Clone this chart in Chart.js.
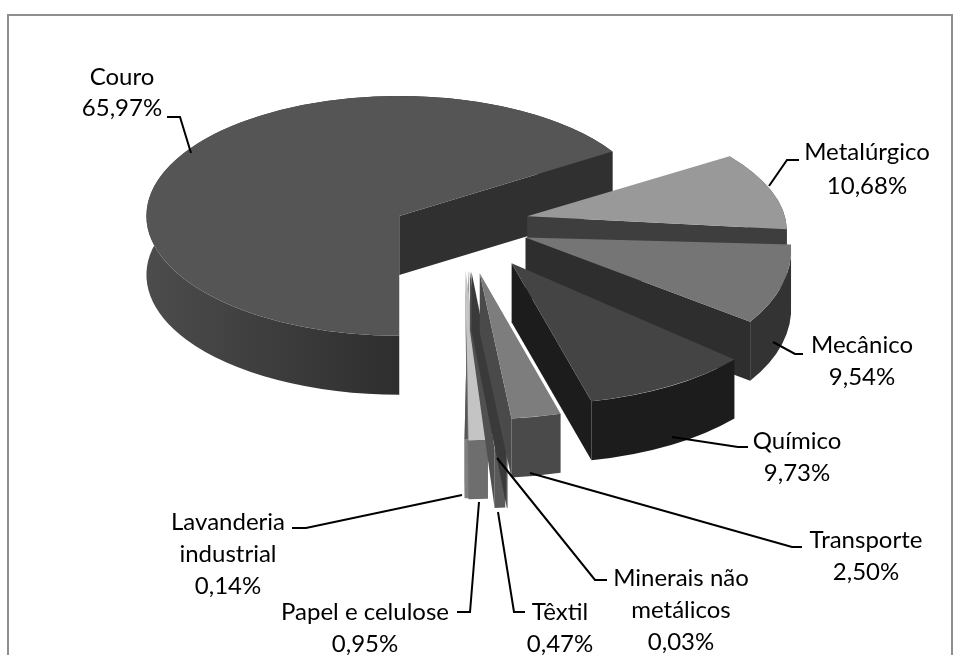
<!DOCTYPE html>
<html>
<head>
<meta charset="utf-8">
<script src="https://cdn.jsdelivr.net/npm/chart.js@4"></script>
<style>
  html, body { margin: 0; padding: 0; background: #fff; overflow: hidden; }
  #frame { position: absolute; left: 7px; top: 14px; width: 942px; height: 700px; border: 2px solid #8e8e8e; }
  #chart { position: absolute; left: 0; top: 0; }
</style>
</head>
<body>
<div id="frame"></div>
<canvas id="chart" width="956" height="655"></canvas>
<script>
// ============== Data ==============
const SECTORS = ["Couro", "Metalúrgico", "Mecânico", "Químico", "Transporte",
  "Minerais não metálicos", "Têxtil", "Papel e celulose", "Lavanderia industrial"];
const SHARES = [65.97, 10.68, 9.54, 9.73, 2.50, 0.03, 0.47, 0.95, 0.14];

// label rows, as wrapped in the picture
const LABEL_LINES = [
  ["Couro", "65,97%"],
  ["Metalúrgico", "10,68%"],
  ["Mecânico", "9,54%"],
  ["Químico", "9,73%"],
  ["Transporte", "2,50%"],
  ["Minerais não", "metálicos", "0,03%"],
  ["Têxtil", "0,47%"],
  ["Papel e celulose", "0,95%"],
  ["Lavanderia", "industrial", "0,14%"],
];

// ============== Styles per slice ==============
const TOP_COLORS  = ["#555555", "#999999", "#757575", "#444444", "#7d7d7d", "#3a3a3a", "#9a9a9a", "#c4c4c4", "#555555"];
const WALL_COLORS = [["#4c4c4c", "#2e2e2e"], ["#3e3e3e", "#3e3e3e"], ["#333333", "#333333"], ["#1c1c1c", "#1c1c1c"],
  ["#4a4a4a", "#4a4a4a"], ["#3a3a3a", "#3a3a3a"], ["#5a5a5a", "#5a5a5a"], ["#6e6e6e", "#6e6e6e"], ["#808080", "#808080"]];
const CUT_COLORS  = ["#303030", "#3e3e3e", "#2e2e2e", "#1c1c1c", "#4a4a4a", "#3a3a3a", "#505050", "#6e6e6e", "#808080"];
const EXPLODE = [67, 67, 69, 93, 100, 96, 95, 92, 90];
const NUDGE_X = [-4, 0, 0, 0, 0, 0, 0, 0, 6];
const NUDGE_Y = [8, 0, 0, 0, 0, 0, 0, 0, 0];
// fake perspective: each slice gets its own linear map, nearer slices drawn bigger
const MAP_XX = [0.98, 1.0, 1.02, 1.107, 1.233, 1.4, 1.4, 1.27, 2.0];
const MAP_XY = [0, 0.11, 0.143, 0.029, 0, 0, 0, 0, -0.015];
const MAP_YX = [0, 0.005, -0.029, 0.026, -0.02, 0, 0, 0, 0];
const MAP_YY = [0.465, 0.441, 0.539, 0.546, 0.568, 0.69, 0.69, 0.66, 0.66];
const PAINT_ORDER = [0, 1, 2, 3, 8, 7, 6, 5, 4];
const DEPTH = 59;
const ORIGIN_Y = 224;
const RADIUS = 258;

// ============== Label placement ==============
const LABEL_X = [122, 867, 862, 797, 866, 681, 560, 365, 228];
const LABEL_Y = [77, 152, 345, 441, 540, 578, 612, 612, 522];
const LABEL_ROW = [31, 34, 32, 32, 32, 32, 32, 32, 32];
const LEADERS = [
  [[167, 117], [180, 117], [191, 153]],
  [[769, 186], [787, 160], [799, 160]],
  [[773, 342], [795, 354], [803, 354]],
  [[672, 437], [738, 447], [748, 447]],
  [[530, 473], [792, 547], [802, 547]],
  [[497, 458], [595, 580], [607, 580]],
  [[498, 512], [514, 612], [525, 612]],
  [[479, 502], [470, 612], [457, 612]],
  [[462, 495], [306, 528], [292, 528]],
];

// ============== 3D pie plugin ==============
function drawSlice(ctx, arc, i) {
  const { x, y, startAngle, endAngle, outerRadius } = arc.getProps(["x", "y", "startAngle", "endAngle", "outerRadius"], true);
  const mid = (startAngle + endAngle) / 2;
  const a = MAP_XX[i], b = MAP_XY[i], c = MAP_YX[i], d = MAP_YY[i];
  // the wall hangs straight down on screen, so undo the map for its offset
  const det = a * d - b * c;
  const dropX = -b * DEPTH / det, dropY = a * DEPTH / det;

  ctx.save();
  ctx.translate(x + Math.cos(mid) * EXPLODE[i] + NUDGE_X[i], ORIGIN_Y + Math.sin(mid) * EXPLODE[i] * 0.5 + NUDGE_Y[i]);
  ctx.transform(a, c, b, d, 0, 0);
  ctx.translate(-x, -y);

  // outer wall
  const wall = ctx.createLinearGradient(x - outerRadius, 0, x, 0);
  wall.addColorStop(0, WALL_COLORS[i][0]);
  wall.addColorStop(1, WALL_COLORS[i][1]);
  ctx.fillStyle = wall;
  ctx.beginPath();
  ctx.arc(x, y, outerRadius, startAngle, endAngle);
  ctx.arc(x + dropX, y + dropY, outerRadius, endAngle, startAngle, true);
  ctx.closePath();
  ctx.fill();

  // cut faces, only those turned towards the viewer
  ctx.fillStyle = CUT_COLORS[i];
  [[startAngle, Math.cos(startAngle) < 0], [endAngle, Math.cos(endAngle) > 0]].forEach(([ang, visible]) => {
    if (!visible) return;
    const ex = x + Math.cos(ang) * outerRadius, ey = y + Math.sin(ang) * outerRadius;
    ctx.beginPath();
    ctx.moveTo(x, y);
    ctx.lineTo(ex, ey);
    ctx.lineTo(ex + dropX, ey + dropY);
    ctx.lineTo(x + dropX, y + dropY);
    ctx.closePath();
    ctx.fill();
  });

  arc.draw(ctx);
  ctx.restore();
}

const pie3d = {
  id: "pie3d",
  beforeDatasetDraw(chart, args) {
    const arcs = args.meta.data;
    PAINT_ORDER.forEach(i => drawSlice(chart.ctx, arcs[i], i));
    return false;
  },
  afterDraw(chart) {
    const ctx = chart.ctx;
    ctx.save();
    ctx.strokeStyle = "#000";
    ctx.lineWidth = 2;
    LEADERS.forEach(pts => {
      ctx.beginPath();
      pts.forEach(([px, py], k) => k ? ctx.lineTo(px, py) : ctx.moveTo(px, py));
      ctx.stroke();
    });
    ctx.fillStyle = "#000";
    ctx.font = '24px Lato, "Open Sans", sans-serif';
    ctx.textAlign = "center";
    ctx.textBaseline = "middle";
    LABEL_LINES.forEach((rows, i) => {
      rows.forEach((row, k) => ctx.fillText(row, LABEL_X[i], LABEL_Y[i] + k * LABEL_ROW[i]));
    });
    ctx.restore();
  }
};

// ============== Boot ==============
new Chart(document.getElementById("chart"), {
  type: "pie",
  data: {
    labels: SECTORS,
    datasets: [{
      data: SHARES,
      backgroundColor: TOP_COLORS,
      borderWidth: 0,
      clip: false,
    }]
  },
  options: {
    responsive: false,
    animation: false,
    rotation: 180,
    radius: RADIUS,
    layout: { padding: { right: 32 } },
    plugins: {
      legend: { display: false },
      tooltip: { enabled: false },
    }
  },
  plugins: [pie3d]
});
</script>
</body>
</html>
